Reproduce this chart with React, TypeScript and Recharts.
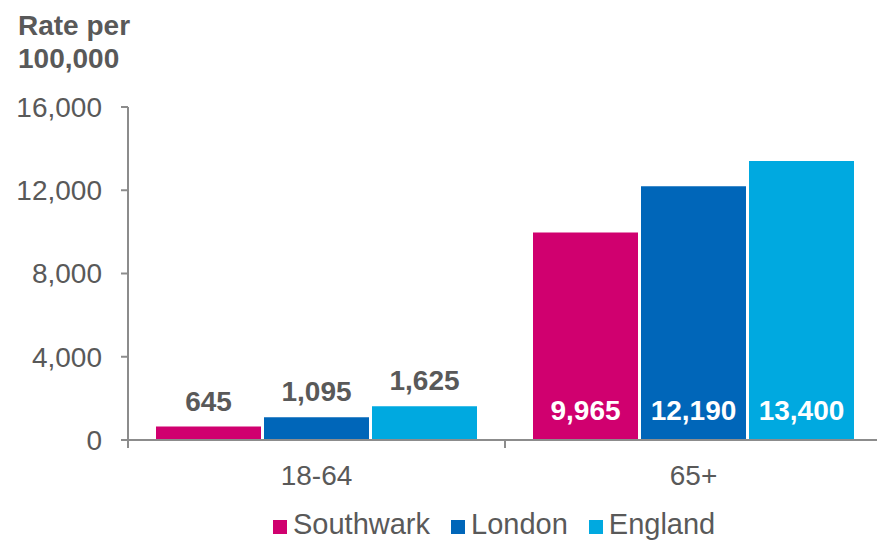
import React from "react";
import { Bar, BarChart, LabelList, Legend, XAxis, YAxis } from "recharts";

const ageGroups = ["18-64", "65+"];
const southwark = [645, 9965];
const london = [1095, 12190];
const england = [1625, 13400];
const yTicks = [0, 4000, 8000, 12000, 16000];

const series = [
  { key: "Southwark", values: southwark, color: "#d0006f" },
  { key: "London", values: london, color: "#0066b9" },
  { key: "England", values: england, color: "#00a9e0" },
];

const data = ageGroups.map((group, i) => {
  const row: Record<string, string | number> = { group };
  series.forEach((s) => {
    row[s.key] = s.values[i];
  });
  return row;
});

const FONT = "'Liberation Sans', Arial, sans-serif";
const TEXT = "#595959";
const AXIS = "#8c8c8c";
const X_TICK = 8;
const X_MARGIN = 17;

const fmt = (v: number) => v.toLocaleString("en-US");

// category label plus tick marks at the band edges
function CategoryTick(props: any) {
  const { x, y, payload } = props;
  const half = payload?.offset ?? 0;
  const top = y - X_TICK - X_MARGIN;
  return (
    <g>
      <line x1={x - half} x2={x - half} y1={top} y2={top + X_TICK} stroke={AXIS} strokeWidth={2} />
      <line x1={x + half} x2={x + half} y1={top} y2={top + X_TICK} stroke={AXIS} strokeWidth={2} />
      <text x={x} y={y} dy="0.71em" textAnchor="middle" fill={TEXT} fontSize={28} fontFamily={FONT}>
        {payload.value}
      </text>
    </g>
  );
}

function ValueLabel(props: any) {
  const { x, y, width, height, value } = props;
  const inside = value > 5000;
  return (
    <text
      x={x + width / 2}
      y={inside ? y + height - 20 : y - 16}
      textAnchor="middle"
      fill={inside ? "#ffffff" : TEXT}
      fontWeight="bold"
      fontSize={28}
      fontFamily={FONT}
    >
      {fmt(value)}
    </text>
  );
}

function AxisTitle() {
  return (
    <text x={18} fill={TEXT} fontWeight="bold" fontSize={28} fontFamily={FONT}>
      <tspan x={18} y={35}>Rate per</tspan>
      <tspan x={18} y={68}>100,000</tspan>
    </text>
  );
}

function LegendContent() {
  return (
    <div style={{ display: "flex", fontFamily: FONT, fontSize: 29, color: TEXT, lineHeight: "29px" }}>
      {series.map((s) => (
        <div key={s.key} style={{ display: "flex", alignItems: "center", marginRight: 21 }}>
          <span style={{ width: 14, height: 14, background: s.color, marginRight: 6, marginTop: 4 }} />
          <span>{s.key}</span>
        </div>
      ))}
    </div>
  );
}

export default function App() {
  return (
    <div style={{ position: "absolute", left: 0, top: 0, width: 877, height: 541, overflow: "hidden", background: "#fff" }}>
      <BarChart
        width={882}
        height={541}
        data={data}
        margin={{ top: 107, right: 0, left: 0, bottom: 41 }}
        barCategoryGap={28}
        barGap={3}
      >
        <XAxis
          dataKey="group"
          height={60}
          stroke={AXIS}
          strokeWidth={2}
          tickLine={false}
          tickSize={X_TICK}
          tickMargin={X_MARGIN}
          tick={<CategoryTick />}
          interval={0}
        />
        <YAxis
          width={128}
          domain={[0, 16000]}
          ticks={yTicks}
          tickFormatter={fmt}
          stroke={AXIS}
          strokeWidth={2}
          tickSize={7}
          tickMargin={19}
          tick={{ fill: TEXT, fontSize: 28, fontFamily: FONT }}
          label={{ content: <AxisTitle /> }}
        />
        <Legend
          layout="horizontal"
          verticalAlign="middle"
          align="center"
          content={<LegendContent />}
          wrapperStyle={{ top: 510, left: 273, width: 600, height: 30 }}
        />
        {series.map((s) => (
          <Bar key={s.key} dataKey={s.key} fill={s.color} isAnimationActive={false}>
            <LabelList dataKey={s.key} content={<ValueLabel />} />
          </Bar>
        ))}
      </BarChart>
    </div>
  );
}
